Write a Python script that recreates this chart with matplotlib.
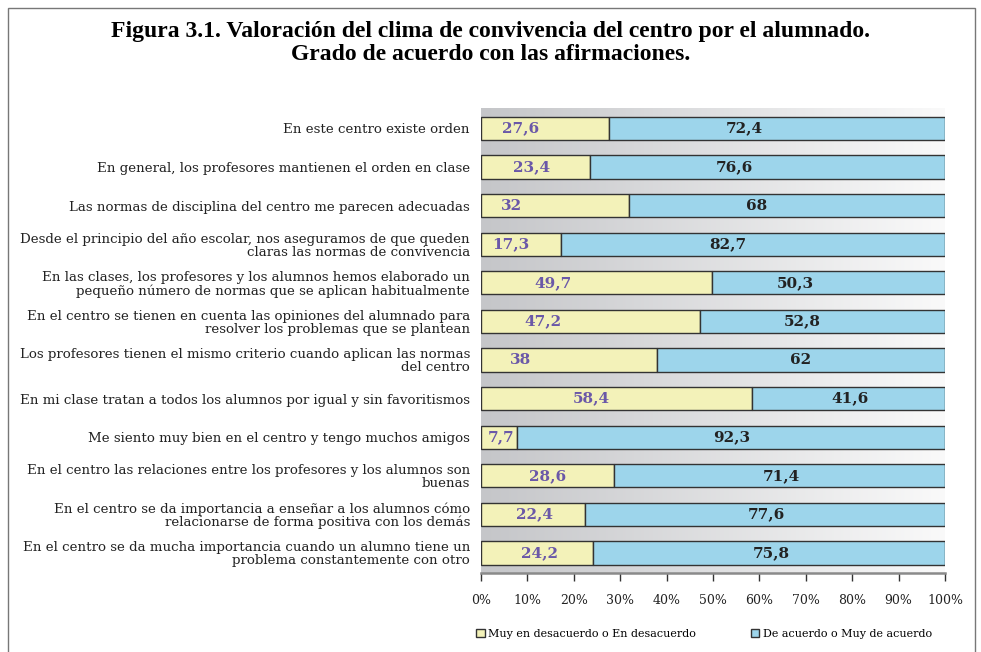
import numpy as np
import matplotlib
matplotlib.use("Agg")
import matplotlib.pyplot as plt
from matplotlib.patches import Patch
from matplotlib.colors import LinearSegmentedColormap


categorias = [
    "En este centro existe orden",
    "En general, los profesores mantienen el orden en clase",
    "Las normas de disciplina del centro me parecen adecuadas",
    "Desde el principio del año escolar, nos aseguramos de que queden\nclaras las normas de convivencia",
    "En las clases, los profesores y los alumnos hemos elaborado un\npequeño número de normas que se aplican habitualmente",
    "En el centro se tienen en cuenta las opiniones del alumnado para\nresolver los problemas que se plantean",
    "Los profesores tienen el mismo criterio cuando aplican las normas\ndel centro",
    "En mi clase tratan a todos los alumnos por igual y sin favoritismos",
    "Me siento muy bien en el centro y tengo muchos amigos",
    "En el centro las relaciones entre los profesores y los alumnos son\nbuenas",
    "En el centro se da importancia a enseñar a los alumnos cómo\nrelacionarse de forma positiva con los demás",
    "En el centro se da mucha importancia cuando un alumno tiene un\nproblema constantemente con otro",
]
desacuerdo = [27.6, 23.4, 32, 17.3, 49.7, 47.2, 38, 58.4, 7.7, 28.6, 22.4, 24.2]
acuerdo = [72.4, 76.6, 68, 82.7, 50.3, 52.8, 62, 41.6, 92.3, 71.4, 77.6, 75.8]
ticks = [0, 10, 20, 30, 40, 50, 60, 70, 80, 90, 100]
tick_labels = ["0%", "10%", "20%", "30%", "40%", "50%", "60%", "70%", "80%", "90%", "100%"]

# donde Excel dejo las etiquetas (en % del eje)
pos_des = [8.6, 10.8, 6.5, 6.5, 15.5, 13.4, 8.6, 23.8, 4.3, 14.4, 11.6, 12.5]
pos_acu = [56.8, 54.7, 59.5, 53.2, 67.7, 69.2, 68.9, 79.6, 54.1, 64.7, 61.6, 62.5]

amarillo = "#f3f2b9"
azul = "#9dd5eb"
morado = "#6a58a8"

fig = plt.figure(figsize=(9.81, 6.52), dpi=100)
ax = fig.add_axes([481/981, 1 - 573/652, (945 - 481)/981, (573 - 108)/652])

y = np.arange(len(categorias))

# fondo degradado gris -> blanco
cmap = LinearSegmentedColormap.from_list("fondo", ["#c5c6c9", "#fbfbfb"])
ax.imshow(np.linspace(0, 1, 256).reshape(1, -1), cmap=cmap, aspect="auto",
          extent=[0, 103, 11.52, -0.53], zorder=0)

ax.barh(y, desacuerdo, height=0.6, color=amarillo, edgecolor="#333333", linewidth=1, zorder=2,
        label="Muy en desacuerdo o En desacuerdo")
ax.barh(y, acuerdo, left=desacuerdo, height=0.6, color=azul, edgecolor="#333333", linewidth=1, zorder=2,
        label="De acuerdo o Muy de acuerdo")

for i in range(len(categorias)):
    ax.text(pos_des[i], y[i], ("%g" % desacuerdo[i]).replace(".", ","), ha="center", va="center",
            fontsize=11, fontweight="bold", family="DejaVu Serif", color=morado, zorder=3)
    ax.text(pos_acu[i], y[i], ("%g" % acuerdo[i]).replace(".", ","), ha="center", va="center",
            fontsize=11, fontweight="bold", family="DejaVu Serif", color="#222222", zorder=3)

ax.set_xlim(0, 100)
ax.set_ylim(11.52, -0.53)
ax.set_yticks(y)
ax.set_yticklabels(categorias, fontsize=9.6, family="DejaVu Serif", color="#222222", linespacing=1.0)
ax.set_xticks(ticks)
ax.set_xticklabels(tick_labels, fontsize=9, family="DejaVu Serif", color="#222222")
ax.tick_params(axis="y", length=0, pad=8)
ax.tick_params(axis="x", length=6, width=1, color="#333333", pad=9)
for s in ["top", "right", "left"]:
    ax.spines[s].set_visible(False)
ax.spines["bottom"].set_color("#8a8a8a")
ax.spines["bottom"].set_linewidth(1.8)

fig.text(0.5, 1 - 32/652, "Figura 3.1. Valoración del clima de convivencia del centro por el alumnado.",
         ha="center", va="center", fontsize=17, fontweight="bold", family="Liberation Serif")
fig.text(0.5, 1 - 55/652, "Grado de acuerdo con las afirmaciones.",
         ha="center", va="center", fontsize=17, fontweight="bold", family="Liberation Serif")

handles = [Patch(facecolor=amarillo, edgecolor="#333333", linewidth=1),
           Patch(facecolor=azul, edgecolor="#333333", linewidth=1)]
fig.legend(handles, ["Muy en desacuerdo o En desacuerdo", "De acuerdo o Muy de acuerdo"],
           loc="center", bbox_to_anchor=(704/981, 1 - 634/652), ncol=2, frameon=False,
           handlelength=0.8, handleheight=0.8, handletextpad=0.3, columnspacing=4.9,
           prop={"family": "DejaVu Serif", "size": 8})

# marco de la figura
fig.add_artist(plt.Rectangle((8/981, -0.05), (975 - 8)/981, 1.05 - 8/652, transform=fig.transFigure,
                             fill=False, edgecolor="#777777", linewidth=1))

plt.savefig("out.png", dpi=100)
